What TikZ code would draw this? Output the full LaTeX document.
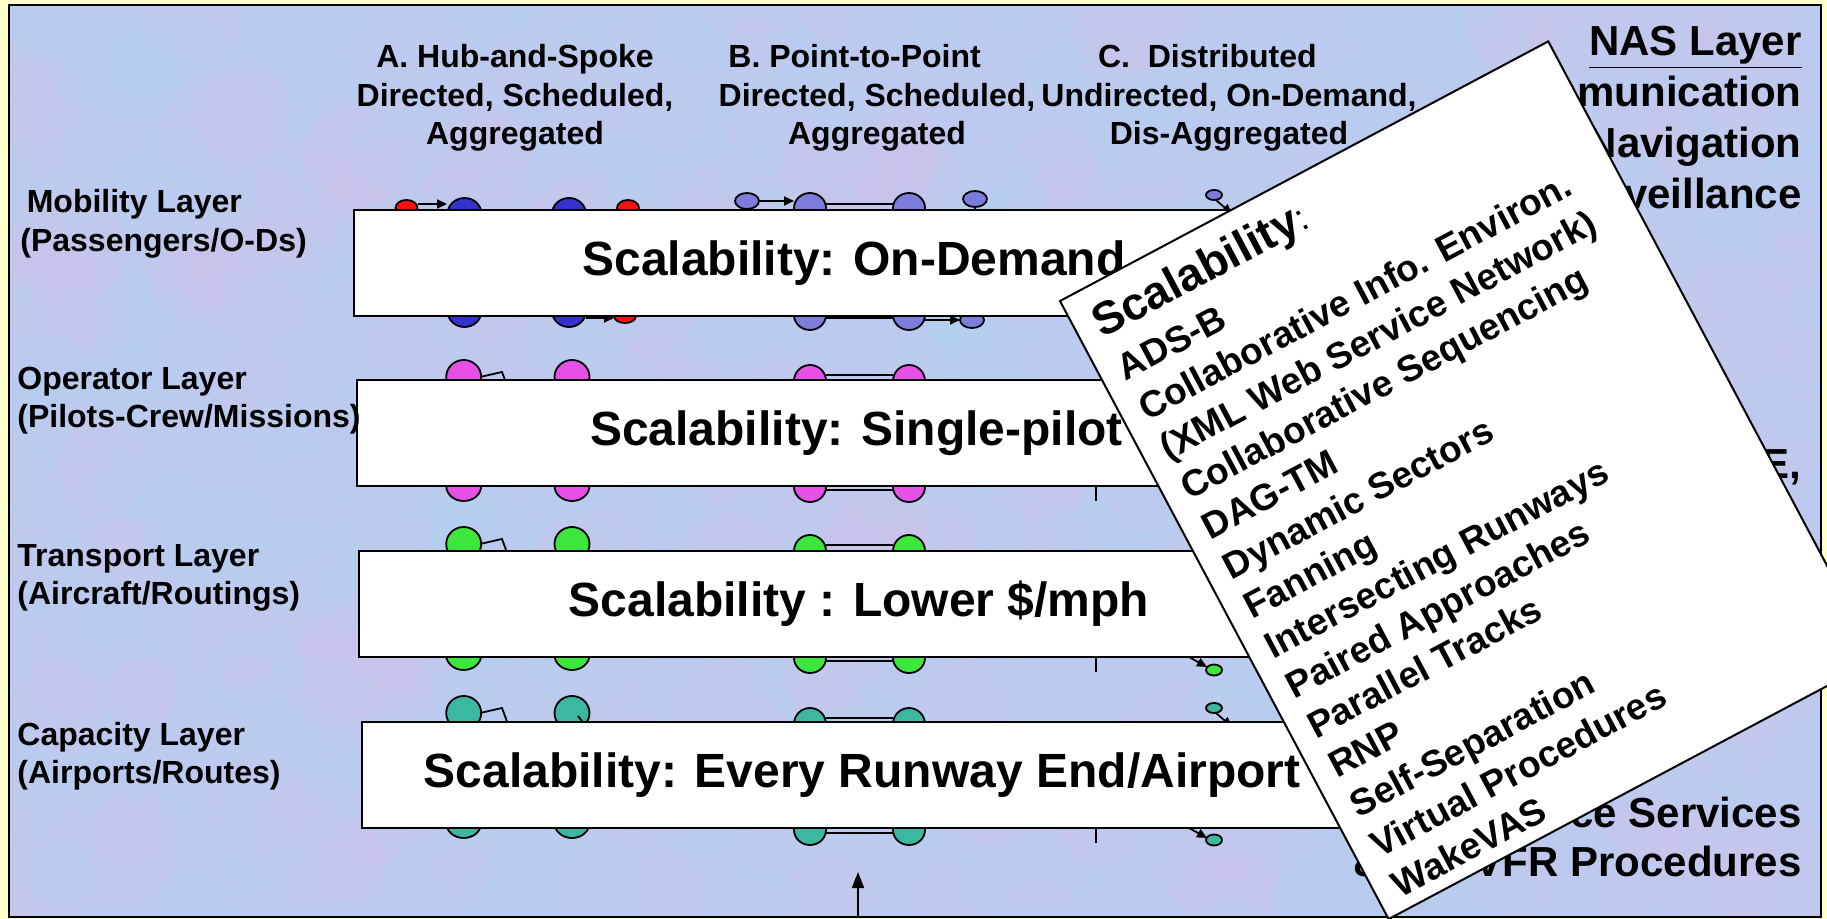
\documentclass[tikz,border=0pt]{standalone}
\usepackage{fontspec}
\setmainfont{Liberation Sans}
\usepackage{tikz}
\usetikzlibrary{arrows.meta}
\definecolor{frameyellow}{HTML}{FFFFCC}
\definecolor{bgblue}{HTML}{BCCAF0}
\definecolor{texpink}{HTML}{E2BCE4}
\definecolor{texcyan}{HTML}{ACDAF0}
\definecolor{mobred}{HTML}{FF1010}
\definecolor{mobblue}{HTML}{3333CC}
\definecolor{ptpblue}{HTML}{7C7CDC}
\definecolor{opmagenta}{HTML}{E650E6}
\definecolor{trgreen}{HTML}{3CE63C}
\definecolor{capteal}{HTML}{3CB8A0}

\begin{document}
\begin{tikzpicture}[x=0.5pt, y=-0.5pt,
  glyph/.style={draw=black, line width=0.9pt},
  link/.style={draw=black, line width=0.9pt},
  arr/.style={link, -{Triangle[length=5pt, width=4.5pt]}},
  scbox/.style={draw=black, fill=white, line width=1pt, minimum width=500pt,
    minimum height=53pt, inner sep=0pt, font=\fontsize{24}{28}\selectfont\bfseries},
  colhead/.style={align=center, inner sep=0pt, font=\fontsize{16}{19.25}\selectfont\bfseries},
  layer/.style={anchor=west, align=left, inner sep=0pt, font=\fontsize{16}{19.25}\selectfont\bfseries},
  nas/.style={anchor=base east, inner sep=0pt, font=\fontsize{21}{25}\selectfont\bfseries},
  cardtxt/.style={anchor=base west, inner sep=0pt, font=\fontsize{18.5}{22}\selectfont\bfseries}]

  \useasboundingbox (0,0) rectangle (1827,919);
  \clip (0,0) rectangle (1827,919);

  % ── Frame ──
  \fill[frameyellow] (0,0) rectangle (1827,919);
  \fill[bgblue] (9,5) rectangle (1821,917);
  % mottled backdrop
  \begin{scope}
    \clip (9,5) rectangle (1821,917);
    \pgfmathsetseed{11}
    \foreach \i in {1,...,220} {
      \pgfmathsetmacro{\bx}{1820*rnd}
      \pgfmathsetmacro{\by}{920*rnd}
      \pgfmathsetmacro{\br}{25+40*rnd}
      \fill[texpink, opacity=0.12] (\bx,\by) circle [radius=\br];
      \pgfmathsetmacro{\cx}{1820*rnd}
      \pgfmathsetmacro{\cy}{920*rnd}
      \fill[texcyan, opacity=0.12] (\cx,\cy) circle [radius=\br];
    }
  \end{scope}
  \draw[black, line width=1pt] (9,5) rectangle (1821,917);

  % ── NAS layer column (mostly under the card) ──
  \node[nas] (naslayer) at (1802,56) {\underline{NAS Layer}};
  \node[nas] (comm) at (1802,107) {Communication};
  \node[nas] (nav) at (1802,158) {Navigation};
  \node[nas] (surv) at (1802,209) {Surveillance};
  \node[nas] (cnse) at (1802,479) {E,};
  \node[nas] (services) at (1802,827) {ce Services};
  \node[nas] (procs) at (1802,876) {\& IFR/VFR Procedures};

  % ── Network glyphs behind the boxes ──
  % mobility: hub-and-spoke
  \filldraw[glyph, fill=mobred] (406.5,208) ellipse [x radius=11, y radius=8];
  \filldraw[glyph, fill=mobblue] (464.5,214) ellipse [x radius=17, y radius=16];
  \filldraw[glyph, fill=mobblue] (569,214) ellipse [x radius=17, y radius=16];
  \filldraw[glyph, fill=mobred] (628,208) ellipse [x radius=11, y radius=8];
  \draw[arr] (417.5,204) -- (447,204);
  \filldraw[glyph, fill=mobblue] (464.5,311) ellipse [x radius=17, y radius=16];
  \filldraw[glyph, fill=mobblue] (569,311) ellipse [x radius=17, y radius=16];
  \filldraw[glyph, fill=mobred] (625,316) ellipse [x radius=11, y radius=7];
  \draw[arr] (586,318) -- (614,318);
  % mobility: point-to-point
  \filldraw[glyph, fill=ptpblue] (747,201) ellipse [x radius=12, y radius=8];
  \draw[arr] (759,201) -- (794,201);
  \filldraw[glyph, fill=ptpblue] (810,208) ellipse [x radius=16, y radius=15];
  \filldraw[glyph, fill=ptpblue] (909,208) ellipse [x radius=16, y radius=15];
  \draw[link] (826,204) -- (893,204);
  \filldraw[glyph, fill=ptpblue] (975,199) ellipse [x radius=12, y radius=8];
  \draw[link] (975,207) -- (975,212);
  \filldraw[glyph, fill=ptpblue] (810,315) ellipse [x radius=16, y radius=15];
  \filldraw[glyph, fill=ptpblue] (909,315) ellipse [x radius=16, y radius=15];
  \draw[link] (826,318) -- (893,318);
  \draw[arr] (925,320) -- (960,320);
  \filldraw[glyph, fill=ptpblue] (972,320) ellipse [x radius=12, y radius=8];
  % mobility: distributed
  \filldraw[glyph, fill=ptpblue] (1214,195) ellipse [x radius=8, y radius=5];
  \draw[arr] (1216,200) -- (1232,214);

  % operator, transport, capacity rows
  \foreach \col/\yt/\yb/\pt/\pb in {opmagenta/377/486/381/487,
      trgreen/544/655/551/658, capteal/713/823/724/830} {
    \foreach \x in {463.7,572} {
      \filldraw[glyph, fill=\col] (\x,\yt) ellipse [x radius=17.5, y radius=17];
      \filldraw[glyph, fill=\col] (\x,\yb) ellipse [x radius=17.5, y radius=15];
    }
    \draw[link] (480,\yt) -- (502,\yt-5) -- (509,\yt+14);
    \foreach \x in {810,909} {
      \filldraw[glyph, fill=\col] (\x,\pt) ellipse [x radius=16, y radius=16];
      \filldraw[glyph, fill=\col] (\x,\pb) ellipse [x radius=16, y radius=15];
    }
    \draw[link] (826,\pt-6) -- (893,\pt-6);
    \draw[link] (826,\pb+3) -- (893,\pb+3);
  }
  \draw[link] (578,716) -- (585,725);
  \foreach \yb in {486,657,828}
    \draw[link] (1096,\yb) -- (1096,\yb+15);
  \draw[arr] (1180,652) -- (1207,667);
  \filldraw[glyph, fill=trgreen] (1214,670) ellipse [x radius=8, y radius=5.5];
  \filldraw[glyph, fill=capteal] (1214,708) ellipse [x radius=8, y radius=5];
  \draw[arr] (1216,713) -- (1232,727);
  \draw[arr] (1180,823) -- (1207,838);
  \filldraw[glyph, fill=capteal] (1214,840) ellipse [x radius=8, y radius=5.5];

  % ── Scalability boxes ──
  \node[scbox] (mobbox) at (854,263) {Scalability: On-Demand};
  \node[scbox] (opbox) at (856.5,433.5) {Scalability: Single-pilot};
  \node[scbox] (trbox) at (859,604) {Scalability : Lower \$/mph};
  \node[scbox] (capbox) at (862,775) {Scalability: Every Runway End/Airport};

  % ── Layer labels ──
  \node[layer] (moblabel) at (20,224) {\hspace*{0.2em}Mobility Layer\\(Passengers/O-Ds)};
  \node[layer] (oplabel) at (17,400.5) {Operator Layer\\(Pilots-Crew/Missions)};
  \node[layer] (trlabel) at (17,578) {Transport Layer\\(Aircraft/Routings)};
  \node[layer] (caplabel) at (17,756) {Capacity Layer\\(Airports/Routes)};

  % ── Column headers ──
  \node[colhead] (hubhead) at (515,98) {A. Hub-and-Spoke\\Directed, Scheduled,\\Aggregated};
  \node[colhead] (ptphead) at (877,98) {B. Point-to-Point\hspace*{1.4em}\\Directed, Scheduled,\\Aggregated};
  \node[colhead] (disthead) at (1229,98) {C.\ \ Distributed\hspace*{1.35em}\\Undirected, On-Demand,\\Dis-Aggregated};

  % ── Arrow from below ──
  \coordinate (arrowfoot) at (858,917);
  \coordinate (arrowtip) at (858,872);
  \draw[line width=1pt, -{Triangle[length=8pt, width=6pt]}] (arrowfoot) -- (arrowtip);

  % ── Tilted card ──
  \begin{scope}[shift={(1060,301)}, rotate=28, transform shape]
    \filldraw[fill=white, draw=black, line width=1pt] (0,0) rectangle (553,700);
    \node[cardtxt] (cardtitle) at (19,53) {{\fontsize{23}{27}\selectfont Scalability}\mdseries:};
    \foreach \t [count=\i] in {ADS-B, Collaborative Info. Environ.,
        {(XML Web Service Network)}, Collaborative Sequencing, DAG-TM,
        Dynamic Sectors, Fanning, Intersecting Runways, Paired Approaches,
        Parallel Tracks, RNP, Self-Separation, Virtual Procedures, WakeVAS}
      \node[cardtxt] (item\i) at (20,{102+45*(\i-1)}) {\t};
  \end{scope}

\end{tikzpicture}
\end{document}
